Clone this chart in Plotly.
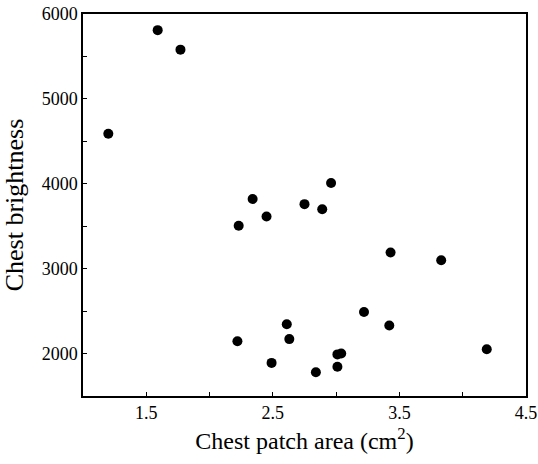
import plotly.graph_objects as go

patch_area = [1.20, 1.59, 1.77, 2.96, 2.34, 2.75, 2.89, 2.45, 2.23, 3.43, 3.83,
              3.22, 2.61, 3.42, 2.22, 2.63, 4.19, 3.01, 3.04, 2.49, 3.01, 2.84]
brightness = [4590, 5810, 5580, 4010, 3820, 3760, 3700, 3615, 3505, 3190, 3100,
              2490, 2345, 2330, 2145, 2170, 2050, 1990, 2000, 1890, 1845, 1780]

FONT = "Liberation Serif, Times New Roman, serif"

fig = go.Figure(go.Scatter(
    x=patch_area, y=brightness, mode="markers",
    marker=dict(color="black", size=10),
    cliponaxis=False,
))

fig.update_layout(
    width=538, height=464,
    margin=dict(l=83, r=12, t=14, b=68),
    paper_bgcolor="white", plot_bgcolor="white",
    showlegend=False,
    font=dict(family=FONT, color="black", size=18),
)
fig.update_xaxes(
    range=[1.0, 4.5], tick0=1.5, dtick=1, tickformat=".1f",
    ticks="inside", ticklen=4, tickwidth=1, tickcolor="black",
    minor=dict(ticks="inside", tick0=1.0, dtick=0.5, ticklen=4, tickwidth=1, tickcolor="black"),
    showline=True, linecolor="black", linewidth=1.5, mirror=True,
    showgrid=False, zeroline=False, automargin=False,
    tickfont=dict(size=18, family=FONT),
    title=dict(text="Chest patch area (cm<sup>2</sup>)", font=dict(size=24, family=FONT), standoff=10),
)
fig.update_yaxes(
    range=[1500, 6000], tick0=2000, dtick=1000, tickformat="d",
    ticks="inside", ticklen=4, tickwidth=1, tickcolor="black",
    minor=dict(ticks="inside", tick0=1500, dtick=500, ticklen=4, tickwidth=1, tickcolor="black"),
    showline=True, linecolor="black", linewidth=1.5, mirror=True,
    showgrid=False, zeroline=False, automargin=False,
    tickfont=dict(size=18, family=FONT),
    title=dict(text="Chest brightness", font=dict(size=26, family=FONT), standoff=12),
)

fig.write_html("out.html", config={"displayModeBar": False},
               post_script="document.body.style.margin='0';")
